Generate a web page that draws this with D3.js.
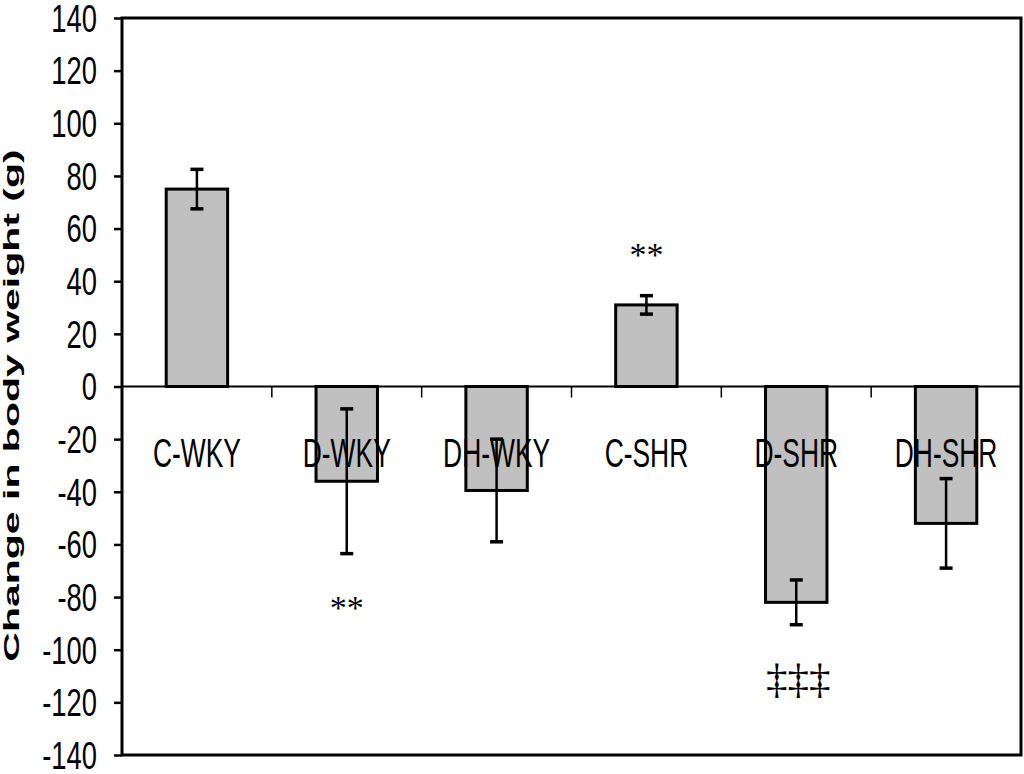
<!DOCTYPE html>
<html>
<head>
<meta charset="utf-8">
<script src="https://cdn.jsdelivr.net/npm/d3@7"></script>
<style>
  html, body { margin: 0; padding: 0; background: #fff; }
  svg { display: block; }
  text { font-family: "Liberation Sans", Arial, sans-serif; fill: #000; }
</style>
</head>
<body>
<svg id="chart" width="1024" height="774"></svg>
<script>
// ---- data ----
const categories = ["C-WKY", "D-WKY", "DH-WKY", "C-SHR", "D-SHR", "DH-SHR"];
const means      = [75, -36, -39.5, 31, -82, -52];
const errors     = [7.5, 27.5, 19.5, 3.5, 8.5, 17];
const sigLabels  = ["", "**", "", "**", "‡‡‡", ""];
const sigValues  = [null, -82, null, 52, -111.5, null];
const yTicks     = [-140, -120, -100, -80, -60, -40, -20, 0, 20, 40, 60, 80, 100, 120, 140];
const yTitle     = "Change in body weight (g)";

// ---- layout ----
const L = 122, R = 1021, T = 18, B = 755;
const svg = d3.select("#chart");

const x = d3.scaleBand().domain(categories).range([L, R]).paddingInner(0.59).paddingOuter(0.295);
const band = d3.scaleBand().domain(categories).range([L, R]);
const y = d3.scaleLinear().domain([-140, 140]).range([B, T]);

// bars
svg.append("g").selectAll("rect").data(categories).join("rect")
  .attr("x", d => x(d))
  .attr("width", x.bandwidth())
  .attr("y", (d, i) => y(Math.max(0, means[i])))
  .attr("height", (d, i) => Math.abs(y(means[i]) - y(0)))
  .attr("fill", "#c0c0c0")
  .attr("stroke", "#000")
  .attr("stroke-width", 3);

// zero line
svg.append("line")
  .attr("x1", L).attr("x2", R).attr("y1", y(0)).attr("y2", y(0))
  .attr("stroke", "#000").attr("stroke-width", 2);

// category boundary ticks
svg.append("g").selectAll("line").data(categories.slice(1)).join("line")
  .attr("x1", d => band(d)).attr("x2", d => band(d))
  .attr("y1", y(0)).attr("y2", y(0) + 11)
  .attr("stroke", "#000").attr("stroke-width", 1.5);

// category labels
svg.append("g").selectAll("text").data(categories).join("text")
  .attr("transform", d => `translate(${band(d) + band.bandwidth() / 2},467) scale(0.66,1)`)
  .attr("text-anchor", "middle")
  .attr("font-size", 40)
  .text(d => d);

// error bars
const eg = svg.append("g").attr("stroke", "#000");
categories.forEach((c, i) => {
  const cx = x(c) + x.bandwidth() / 2;
  const hi = y(means[i] + errors[i]), lo = y(means[i] - errors[i]);
  eg.append("line").attr("x1", cx).attr("x2", cx).attr("y1", hi).attr("y2", lo).attr("stroke-width", 2.5);
  eg.append("line").attr("x1", cx - 6.5).attr("x2", cx + 6.5).attr("y1", hi).attr("y2", hi).attr("stroke-width", 3.5);
  eg.append("line").attr("x1", cx - 6.5).attr("x2", cx + 6.5).attr("y1", lo).attr("y2", lo).attr("stroke-width", 3.5);
});

// significance markers
categories.forEach((c, i) => {
  if (!sigLabels[i]) return;
  const cx = band(c) + band.bandwidth() / 2;
  const isStar = sigLabels[i].startsWith("*");
  svg.append("text")
    .attr("x", cx - (isStar ? 0 : -2))
    .attr("y", y(sigValues[i]))
    .attr("dy", isStar ? "0.48em" : "0.3em")
    .attr("text-anchor", "middle")
    .attr("font-family", "'Liberation Serif', 'Times New Roman', serif")
    .attr("font-size", isStar ? 34 : 43)
    .style("font-family", "'Liberation Serif', 'Times New Roman', serif")
    .text(sigLabels[i]);
});

// y axis
const yAxis = svg.append("g")
  .attr("transform", `translate(${L},0)`)
  .call(d3.axisLeft(y).tickValues(yTicks).tickSize(8).tickSizeOuter(0).tickFormat(d => String(d)));
yAxis.select(".domain").remove();
yAxis.selectAll(".tick line").attr("stroke", "#000").attr("stroke-width", 2.5);
yAxis.selectAll(".tick text")
  .attr("x", 0).attr("dy", "0.35em")
  .attr("transform", "translate(-25,0) scale(0.72,1)")
  .attr("font-size", 38)
  .attr("font-family", "'Liberation Sans', Arial, sans-serif")
  .attr("fill", "#000");

// plot frame
svg.append("rect")
  .attr("x", L).attr("y", T).attr("width", R - L).attr("height", B - T)
  .attr("fill", "none").attr("stroke", "#000").attr("stroke-width", 3);

// y title
svg.append("text")
  .attr("transform", `translate(19,${(147 + 664) / 2}) scale(0.56,1) rotate(-90)`)
  .attr("text-anchor", "middle")
  .attr("font-size", 41)
  .attr("font-weight", "bold")
  .text(yTitle);
</script>
</body>
</html>
